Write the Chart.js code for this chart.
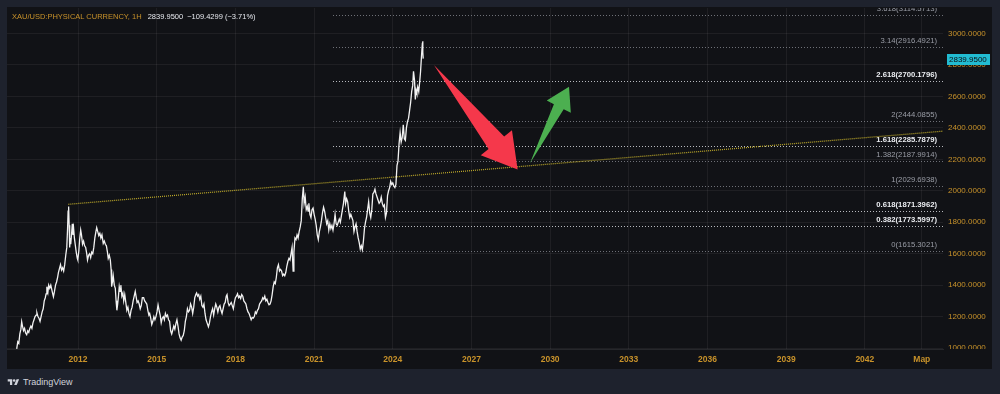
<!DOCTYPE html>
<html>
<head>
<meta charset="utf-8">
<script src="https://cdn.jsdelivr.net/npm/chart.js@4.4.3/dist/chart.umd.min.js"></script>
<style>
  html, body { margin: 0; padding: 0; }
  body { width: 1000px; height: 394px; background: #1e222d; position: relative; overflow: hidden; font-family: "Liberation Sans", Arial, sans-serif; }
  #panel { position: absolute; left: 7px; top: 7px; width: 985px; height: 362px; background: #111216; }
  #chart { position: absolute; left: 0; top: 0; }
  #legend { position: absolute; left: 5px; top: 5px; font-size: 7.5px; line-height: 9px; white-space: nowrap; color: #c8922a; }
  #legend .v { color: #e6e8ee; margin-left: 4px; }
  #brand { position: absolute; left: 7px; top: 377px; height: 10px; display: flex; align-items: center; color: #d1d4dc; font-size: 9px; }
  #brand svg { width: 13px; height: 9px; margin-right: 3px; }
</style>
</head>
<body>
<div id="panel">
  <canvas id="chart" width="985" height="362"></canvas>
  <div id="legend">XAU/USD:PHYSICAL CURRENCY, 1H <span class="v">2839.9500</span><span class="v">&minus;109.4299 (&minus;3.71%)</span></div>
</div>
<div id="brand">
  <svg viewBox="0 0 36 28"><path d="M14 22H7V11H0V4h14v18z" fill="#d1d4dc"/><circle cx="20" cy="8" r="4" fill="#d1d4dc"/><path d="M28 22h-8l7.5-18h8L28 22z" fill="#d1d4dc"/></svg>
  <span>TradingView</span>
</div>
<script>
/* XAU/USD — динамика цены + уровни Фибоначчи */

// цена (год в десятичном виде, значение)
const priceDates = [
  2009.66, 2009.70, 2009.74, 2009.78, 2009.82, 2009.85, 2009.88, 2009.92, 2009.96, 2010.00,
  2010.04, 2010.08, 2010.12, 2010.16, 2010.20, 2010.24, 2010.28, 2010.32, 2010.36, 2010.40,
  2010.43, 2010.47, 2010.51, 2010.55, 2010.59, 2010.63, 2010.67, 2010.71, 2010.75, 2010.78,
  2010.81, 2010.85, 2010.88, 2010.92, 2010.96, 2011.00, 2011.04, 2011.06, 2011.10, 2011.14,
  2011.18, 2011.22, 2011.25, 2011.29, 2011.33, 2011.37, 2011.41, 2011.45, 2011.49, 2011.53,
  2011.57, 2011.60, 2011.62, 2011.64, 2011.66, 2011.68, 2011.70, 2011.72, 2011.75, 2011.78,
  2011.80, 2011.83, 2011.86, 2011.89, 2011.93, 2011.97, 2011.99, 2012.03, 2012.06, 2012.10,
  2012.13, 2012.17, 2012.21, 2012.25, 2012.29, 2012.33, 2012.36, 2012.40, 2012.44, 2012.48,
  2012.52, 2012.56, 2012.60, 2012.64, 2012.68, 2012.71, 2012.75, 2012.79, 2012.83, 2012.87,
  2012.91, 2012.96, 2013.00, 2013.04, 2013.08, 2013.12, 2013.15, 2013.19, 2013.23, 2013.26,
  2013.28, 2013.31, 2013.34, 2013.38, 2013.42, 2013.45, 2013.48, 2013.51, 2013.54, 2013.57,
  2013.60, 2013.63, 2013.67, 2013.71, 2013.74, 2013.78, 2013.82, 2013.86, 2013.90, 2013.94,
  2013.98, 2014.02, 2014.06, 2014.10, 2014.14, 2014.18, 2014.21, 2014.25, 2014.29, 2014.33,
  2014.37, 2014.41, 2014.45, 2014.50, 2014.54, 2014.58, 2014.62, 2014.66, 2014.70, 2014.73,
  2014.77, 2014.81, 2014.85, 2014.89, 2014.93, 2014.97, 2015.01, 2015.05, 2015.09, 2015.13,
  2015.17, 2015.21, 2015.25, 2015.29, 2015.33, 2015.37, 2015.41, 2015.45, 2015.49, 2015.53,
  2015.57, 2015.61, 2015.65, 2015.69, 2015.73, 2015.77, 2015.81, 2015.85, 2015.89, 2015.93,
  2015.97, 2016.01, 2016.05, 2016.09, 2016.13, 2016.17, 2016.21, 2016.25, 2016.29, 2016.33,
  2016.37, 2016.41, 2016.45, 2016.49, 2016.52, 2016.56, 2016.60, 2016.64, 2016.68, 2016.72,
  2016.76, 2016.80, 2016.84, 2016.88, 2016.92, 2016.97, 2017.01, 2017.05, 2017.09, 2017.13,
  2017.17, 2017.21, 2017.25, 2017.29, 2017.33, 2017.37, 2017.41, 2017.45, 2017.49, 2017.53,
  2017.57, 2017.61, 2017.65, 2017.68, 2017.72, 2017.76, 2017.80, 2017.84, 2017.88, 2017.92,
  2017.96, 2018.00, 2018.04, 2018.08, 2018.12, 2018.16, 2018.20, 2018.24, 2018.28, 2018.32,
  2018.36, 2018.40, 2018.44, 2018.48, 2018.52, 2018.56, 2018.60, 2018.64, 2018.68, 2018.72,
  2018.76, 2018.80, 2018.84, 2018.88, 2018.92, 2018.96, 2019.00, 2019.04, 2019.08, 2019.12,
  2019.16, 2019.20, 2019.24, 2019.28, 2019.32, 2019.36, 2019.40, 2019.44, 2019.48, 2019.52,
  2019.56, 2019.60, 2019.64, 2019.68, 2019.72, 2019.76, 2019.80, 2019.84, 2019.88, 2019.92,
  2019.96, 2020.00, 2020.04, 2020.08, 2020.12, 2020.16, 2020.20, 2020.23, 2020.27, 2020.31,
  2020.35, 2020.39, 2020.43, 2020.47, 2020.51, 2020.55, 2020.59, 2020.62, 2020.66, 2020.70,
  2020.74, 2020.77, 2020.80, 2020.84, 2020.88, 2020.92, 2020.96, 2021.00, 2021.04, 2021.08,
  2021.12, 2021.16, 2021.20, 2021.24, 2021.28, 2021.32, 2021.36, 2021.40, 2021.44, 2021.48,
  2021.52, 2021.56, 2021.60, 2021.64, 2021.68, 2021.72, 2021.76, 2021.80, 2021.84, 2021.88,
  2021.92, 2021.96, 2022.00, 2022.04, 2022.08, 2022.12, 2022.17, 2022.20, 2022.24, 2022.28,
  2022.32, 2022.36, 2022.40, 2022.44, 2022.48, 2022.52, 2022.56, 2022.60, 2022.64, 2022.68,
  2022.72, 2022.76, 2022.80, 2022.84, 2022.88, 2022.92, 2022.96, 2023.00, 2023.04, 2023.08,
  2023.12, 2023.16, 2023.20, 2023.24, 2023.28, 2023.32, 2023.36, 2023.40, 2023.44, 2023.48,
  2023.52, 2023.56, 2023.60, 2023.64, 2023.68, 2023.72, 2023.76, 2023.80, 2023.84, 2023.88,
  2023.92, 2023.96, 2024.00, 2024.04, 2024.08, 2024.12, 2024.16, 2024.20, 2024.24, 2024.28,
  2024.32, 2024.36, 2024.40, 2024.44, 2024.48, 2024.52, 2024.56, 2024.60, 2024.64, 2024.68,
  2024.72, 2024.76, 2024.79, 2024.83, 2024.86, 2024.89, 2024.92, 2024.95, 2024.99, 2025.03,
  2025.06, 2025.10, 2025.13, 2025.14, 2025.15, 2025.16
];
const priceValues = [
  995, 1040, 1030, 1090, 1120, 1167, 1140, 1110, 1125, 1095,
  1085, 1110, 1100, 1125, 1140, 1125, 1160, 1180, 1200, 1210,
  1225, 1200, 1190, 1170, 1200, 1230, 1250, 1300, 1320, 1345,
  1390, 1355, 1400, 1380, 1400, 1370, 1340, 1326, 1360, 1400,
  1420, 1450, 1480, 1505, 1530, 1495, 1510, 1490, 1530, 1590,
  1640, 1760, 1870, 1900, 1780, 1640, 1700, 1660, 1720, 1790,
  1720, 1760, 1700, 1660, 1610, 1570, 1560, 1620, 1690, 1750,
  1720, 1660, 1680, 1650, 1640, 1600, 1560, 1590, 1600, 1575,
  1610, 1600, 1640, 1700, 1740, 1765, 1740, 1715, 1730, 1700,
  1720, 1665, 1680, 1660, 1650, 1610, 1570, 1590, 1560, 1500,
  1390, 1420, 1460, 1400, 1380, 1300, 1240, 1280, 1330, 1390,
  1360, 1400, 1330, 1350, 1300, 1340, 1290, 1240, 1260, 1220,
  1200, 1240, 1260, 1300, 1330, 1360, 1330, 1290, 1300, 1280,
  1250, 1270, 1320, 1320, 1300, 1290, 1280, 1240, 1210, 1220,
  1190, 1150, 1170, 1200, 1180, 1200, 1230, 1275, 1240, 1210,
  1160, 1190, 1200, 1180, 1220, 1200, 1210, 1180, 1170, 1110,
  1090, 1115, 1140, 1120, 1155, 1180, 1140, 1090, 1065, 1050,
  1070, 1080, 1110, 1170, 1200, 1250, 1230, 1240, 1280, 1260,
  1220, 1260, 1320, 1340, 1350, 1330, 1340, 1310, 1330, 1270,
  1260, 1280, 1220, 1180, 1160, 1135, 1160, 1200, 1230, 1250,
  1210, 1250, 1280, 1260, 1230, 1260, 1270, 1240, 1220, 1250,
  1280, 1290, 1330, 1340, 1290, 1270, 1280, 1290, 1270, 1250,
  1290, 1320, 1330, 1345, 1320, 1330, 1315, 1340, 1330, 1300,
  1290, 1280, 1250, 1230, 1220, 1200, 1180, 1195, 1190, 1200,
  1230, 1220, 1240, 1250, 1280, 1290, 1300, 1320, 1310, 1330,
  1300, 1310, 1290, 1275, 1280, 1300, 1340, 1390, 1420, 1410,
  1450, 1510, 1530, 1490, 1500, 1490, 1460, 1470, 1460, 1480,
  1520, 1550, 1570, 1560, 1600, 1640, 1490, 1610, 1700, 1690,
  1720, 1700, 1740, 1770, 1810, 1950, 2025, 1920, 1960, 1880,
  1900, 1870, 1920, 1850, 1830, 1880, 1890, 1850, 1820, 1780,
  1720, 1690, 1740, 1770, 1810, 1860, 1895, 1870, 1830, 1790,
  1810, 1750, 1790, 1760, 1780, 1750, 1790, 1850, 1790, 1780,
  1800, 1820, 1800, 1840, 1880, 1920, 1995, 1920, 1950, 1930,
  1870, 1830, 1850, 1830, 1810, 1740, 1770, 1790, 1740, 1700,
  1670, 1630, 1650, 1625, 1680, 1760, 1800, 1830, 1880, 1930,
  1860, 1830, 1880, 1980, 1990, 2010, 1980, 1960, 1940, 1920,
  1930, 1960, 1920, 1900, 1910, 1830, 1860, 1970, 2000, 2020,
  2060, 2040, 2050, 2030, 2020, 2040, 2160, 2190, 2300, 2370,
  2310, 2340, 2420, 2330, 2320, 2400, 2440, 2460, 2510, 2560,
  2630, 2670, 2760, 2700, 2580, 2640, 2620, 2660, 2630, 2700,
  2760, 2870, 2940, 2950, 2880, 2839.95
];

// трендовая линия (жёлтый пунктир)
const trendDates = [2011.63, 2044.98];
const trendValues = [1914, 2379];

// уровни Фибоначчи
const fibStart = 2021.72;
const fibRatios = ['0', '0.382', '0.618', '1', '1.382', '1.618', '2', '2.618', '3.14', '3.618'];
const fibLevels = [1615.3021, 1773.5997, 1871.3962, 2029.6938, 2187.9914, 2285.7879, 2444.0855, 2700.1796, 2916.4921, 3114.5713];

// стрелки: [хвост, острие] в координатах (год, цена)
const redArrow = [[2025.57, 2800], [2028.76, 2136]];
const greenArrow = [[2029.23, 2175], [2030.72, 2662]];

// оси
const xTickValues = [2012, 2015, 2018, 2021, 2024, 2027, 2030, 2033, 2036, 2039, 2042, 2044.17];
const xTickLabels = ['2012', '2015', '2018', '2021', '2024', '2027', '2030', '2033', '2036', '2039', '2042', 'Мар'];
const yTickValues = [1000, 1200, 1400, 1600, 1800, 2000, 2200, 2400, 2600, 2800, 3000];

const X_MIN = 2009.29, X_MAX = 2044.98;
const Y_MIN = 994, Y_MAX = 3162;

const PANEL_BG = '#111216';
const AXIS_TEXT = '#c8922a';
const GRID = 'rgba(255,255,255,0.06)';
const strongRatios = ['0.382', '0.618', '1.618', '2.618'];

function drawArrow(ctx, x, y, pts, color, shaftHalf, headHalf, headLen) {
  const tx = x.getPixelForValue(pts[0][0]), ty = y.getPixelForValue(pts[0][1]);
  const px = x.getPixelForValue(pts[1][0]), py = y.getPixelForValue(pts[1][1]);
  const L = Math.hypot(px - tx, py - ty);
  const ux = (px - tx) / L, uy = (py - ty) / L;
  const nx = -uy, ny = ux;
  const bx = px - ux * headLen, by = py - uy * headLen;
  ctx.fillStyle = color;
  ctx.beginPath();
  ctx.moveTo(tx, ty);
  ctx.lineTo(bx + nx * shaftHalf, by + ny * shaftHalf);
  ctx.lineTo(bx + nx * headHalf, by + ny * headHalf);
  ctx.lineTo(px, py);
  ctx.lineTo(bx - nx * headHalf, by - ny * headHalf);
  ctx.lineTo(bx - nx * shaftHalf, by - ny * shaftHalf);
  ctx.closePath();
  ctx.fill();
}

const overlay = {
  id: 'overlay',
  beforeDatasetsDraw(chart) {
    const { ctx, chartArea: a, scales: { x, y } } = chart;
    // прячем нижнюю половину подписи 1000.0000
    ctx.save();
    ctx.fillStyle = PANEL_BG;
    ctx.fillRect(a.right + 1, a.bottom, chart.width - a.right, chart.height - a.bottom);
    ctx.restore();

    ctx.save();
    ctx.beginPath();
    ctx.rect(a.left, a.top, a.right - a.left, a.bottom - a.top);
    ctx.clip();
    const x0 = Math.round(x.getPixelForValue(fibStart));
    fibLevels.forEach((lvl, i) => {
      const strong = strongRatios.includes(fibRatios[i]);
      const py = Math.round(y.getPixelForValue(lvl)) + 0.5;
      ctx.strokeStyle = strong ? 'rgba(225,227,232,0.8)' : 'rgba(150,153,161,0.7)';
      ctx.lineWidth = 1;
      ctx.setLineDash([1, 2]);
      ctx.beginPath();
      ctx.moveTo(x0, py);
      ctx.lineTo(a.right, py);
      ctx.stroke();
      ctx.setLineDash([]);
      ctx.font = (strong ? 'bold ' : '') + '7.7px "Liberation Sans", Arial, sans-serif';
      ctx.fillStyle = strong ? '#eceef2' : '#9a9da6';
      ctx.textAlign = 'right';
      ctx.textBaseline = 'middle';
      ctx.fillText(`${fibRatios[i]}(${lvl.toFixed(4)})`, a.right - 6, py - 7);
    });
    ctx.restore();
  },
  afterDatasetsDraw(chart) {
    const { ctx, chartArea: a, scales: { x, y } } = chart;
    ctx.save();
    drawArrow(ctx, x, y, redArrow, '#f5384b', 10, 20, 34);
    drawArrow(ctx, x, y, greenArrow, '#4caf50', 5.5, 13.5, 22.5);
    ctx.restore();

    // метка последней цены
    const last = priceValues[priceValues.length - 1];
    const ly = Math.round(y.getPixelForValue(last));
    ctx.save();
    ctx.fillStyle = '#22bcd2';
    ctx.fillRect(a.right + 4, ly - 5, 43, 11);
    ctx.fillStyle = '#0c0e12';
    ctx.font = '8px "Liberation Sans", Arial, sans-serif';
    ctx.textAlign = 'left';
    ctx.textBaseline = 'middle';
    ctx.fillText(last.toFixed(4), a.right + 6, ly + 0.5);
    ctx.restore();
  }
};

new Chart(document.getElementById('chart'), {
  type: 'line',
  data: {
    datasets: [
      {
        label: 'XAU/USD',
        data: priceDates.map((d, i) => ({ x: d, y: priceValues[i] })),
        borderColor: '#f2f2f2',
        borderWidth: 1.3,
        pointRadius: 0,
        tension: 0
      },
      {
        label: 'Тренд',
        data: trendDates.map((d, i) => ({ x: d, y: trendValues[i] })),
        borderColor: '#bba72a',
        borderWidth: 1.2,
        borderDash: [1, 1],
        pointRadius: 0
      }
    ]
  },
  options: {
    responsive: false,
    animation: false,
    devicePixelRatio: 1,
    layout: { padding: { top: 1, left: 0, right: 0, bottom: 0 } },
    plugins: { legend: { display: false }, tooltip: { enabled: false } },
    scales: {
      x: {
        type: 'linear',
        min: X_MIN,
        max: X_MAX,
        afterBuildTicks: s => { s.ticks = xTickValues.map(v => ({ value: v })); },
        afterFit: s => { s.height = 20; s.paddingLeft = 0; s.paddingRight = 0; },
        grid: { color: GRID, drawTicks: false },
        border: { display: true, color: 'rgba(255,255,255,0.09)' },
        ticks: {
          autoSkip: false, maxRotation: 0, padding: 6,
          color: AXIS_TEXT,
          font: { family: '"Liberation Sans", Arial, sans-serif', size: 8.5, weight: 'bold' },
          callback: (v, i) => xTickLabels[i]
        }
      },
      y: {
        position: 'right',
        min: Y_MIN,
        max: Y_MAX,
        afterBuildTicks: s => { s.ticks = yTickValues.map(v => ({ value: v })); },
        afterFit: s => { s.width = 49; s.paddingTop = 0; s.paddingBottom = 0; },
        grid: { color: GRID, drawTicks: false },
        border: { display: false },
        ticks: {
          padding: 5,
          color: AXIS_TEXT,
          font: { family: '"Liberation Sans", Arial, sans-serif', size: 8 },
          callback: v => Number(v).toFixed(4)
        }
      }
    }
  },
  plugins: [overlay]
});
</script>
</body>
</html>
